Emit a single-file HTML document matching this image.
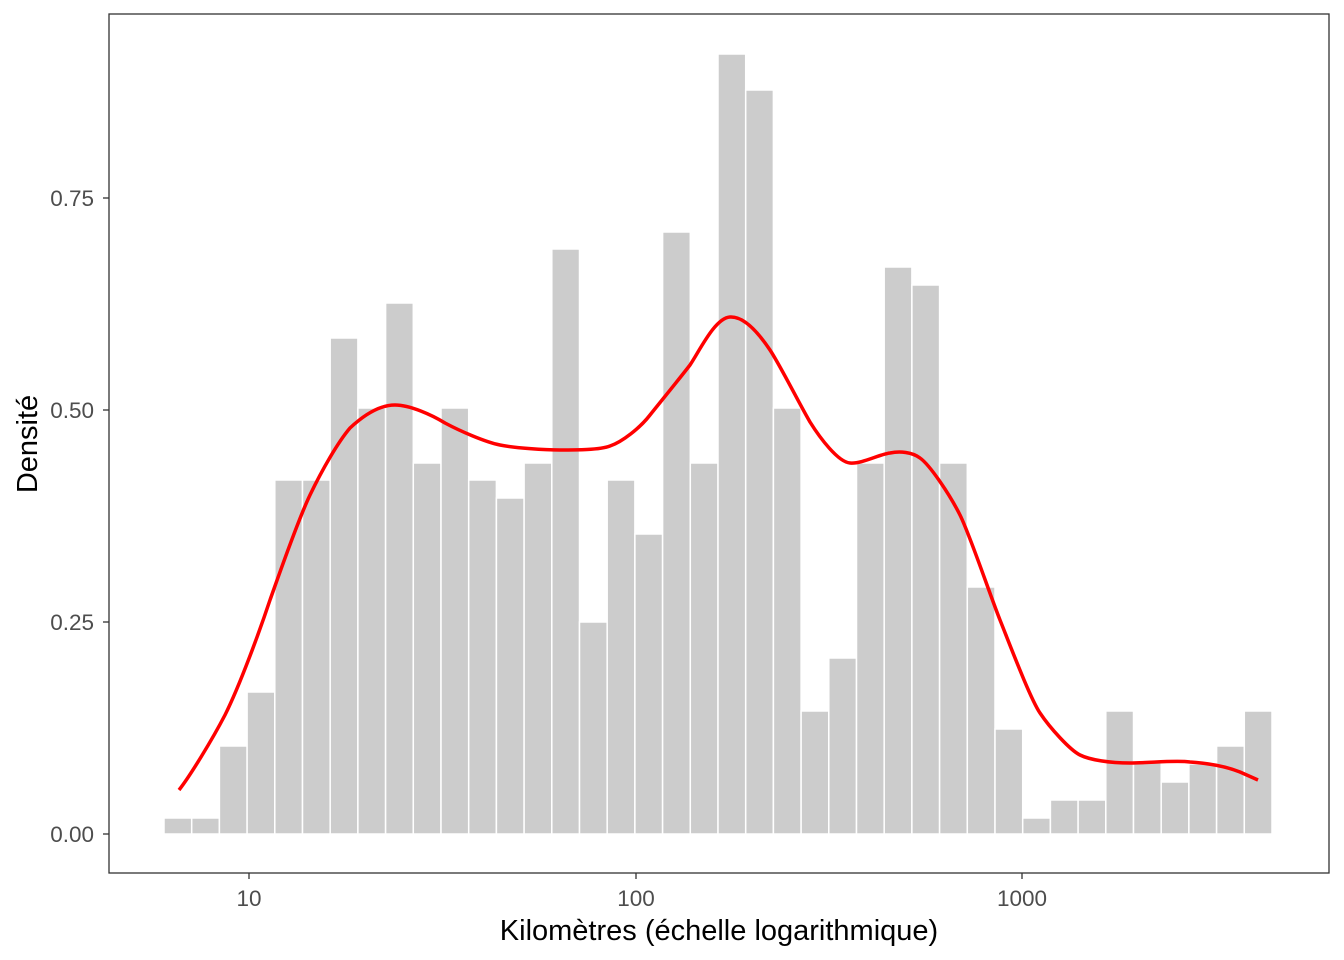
<!DOCTYPE html>
<html><head><meta charset="utf-8"><style>
html,body{margin:0;padding:0;background:#fff;}
svg{display:block;}
text{font-family:"Liberation Sans",Arial,sans-serif;}
</style></head><body>
<svg width="1344" height="960" viewBox="0 0 1344 960" xmlns="http://www.w3.org/2000/svg">
<rect width="1344" height="960" fill="#fff"/>
<g fill="#cccccc" stroke="#ffffff" stroke-width="1.5">
<rect x="164" y="818" width="27.7" height="16"/>
<rect x="191.7" y="818" width="27.7" height="16"/>
<rect x="219.4" y="746" width="27.7" height="88"/>
<rect x="247.1" y="692" width="27.7" height="142"/>
<rect x="274.8" y="480" width="27.7" height="354"/>
<rect x="302.5" y="480" width="27.7" height="354"/>
<rect x="330.2" y="338" width="27.7" height="496"/>
<rect x="357.9" y="408" width="27.7" height="426"/>
<rect x="385.6" y="303" width="27.7" height="531"/>
<rect x="413.3" y="463" width="27.7" height="371"/>
<rect x="441" y="408" width="27.7" height="426"/>
<rect x="468.7" y="480" width="27.7" height="354"/>
<rect x="496.4" y="498" width="27.7" height="336"/>
<rect x="524.1" y="463" width="27.7" height="371"/>
<rect x="551.8" y="249" width="27.7" height="585"/>
<rect x="579.5" y="622" width="27.7" height="212"/>
<rect x="607.2" y="480" width="27.7" height="354"/>
<rect x="634.9" y="534" width="27.7" height="300"/>
<rect x="662.6" y="232" width="27.7" height="602"/>
<rect x="690.3" y="463" width="27.7" height="371"/>
<rect x="718" y="54" width="27.7" height="780"/>
<rect x="745.7" y="90" width="27.7" height="744"/>
<rect x="773.4" y="408" width="27.7" height="426"/>
<rect x="801.1" y="711" width="27.7" height="123"/>
<rect x="828.8" y="658" width="27.7" height="176"/>
<rect x="856.5" y="463" width="27.7" height="371"/>
<rect x="884.2" y="267" width="27.7" height="567"/>
<rect x="911.9" y="285" width="27.7" height="549"/>
<rect x="939.6" y="463" width="27.7" height="371"/>
<rect x="967.3" y="587" width="27.7" height="247"/>
<rect x="995" y="729" width="27.7" height="105"/>
<rect x="1022.7" y="818" width="27.7" height="16"/>
<rect x="1050.4" y="800" width="27.7" height="34"/>
<rect x="1078.1" y="800" width="27.7" height="34"/>
<rect x="1105.8" y="711" width="27.7" height="123"/>
<rect x="1133.5" y="762" width="27.7" height="72"/>
<rect x="1161.2" y="782" width="27.7" height="52"/>
<rect x="1188.9" y="764" width="27.7" height="70"/>
<rect x="1216.6" y="746" width="27.7" height="88"/>
<rect x="1244.3" y="711" width="27.7" height="123"/>
</g>
<path d="M179,790 C190,776 212,740 225,715 C240,685 260,630 270,600 C280,572 298,520 310,495 C322,470 338,442 350,428 C365,414 380,405 395,405 C410,405 432,415 445,423 C460,431 485,442 500,445 C515,448 545,450 560,450 C575,450 600,450 610,446 C622,442 640,428 650,415 C662,400 680,378 690,365 C700,350 715,318 730,317 C745,316 760,335 770,350 C780,365 800,405 810,422 C820,438 838,462 850,463 C862,464 880,454 890,453 C900,451 912,452 920,458 C930,465 950,495 960,515 C970,535 990,595 1000,620 C1010,645 1030,698 1040,713 C1050,728 1070,750 1080,755 C1090,760 1110,763 1130,763 C1150,763 1175,760 1190,762 C1205,763 1225,766 1240,772 L1258,780" fill="none" stroke="#ff0000" stroke-width="3.5"/>
<rect x="109" y="14" width="1220" height="859" fill="none" stroke="#333" stroke-width="1.3"/>
<g stroke="#333" stroke-width="1.3">
<line x1="103" y1="834" x2="109" y2="834"/>
<line x1="103" y1="622" x2="109" y2="622"/>
<line x1="103" y1="410" x2="109" y2="410"/>
<line x1="103" y1="198" x2="109" y2="198"/>
<line x1="249" y1="873" x2="249" y2="879"/>
<line x1="636" y1="873" x2="636" y2="879"/>
<line x1="1022" y1="873" x2="1022" y2="879"/>
</g>
<g fill="#4d4d4d" font-size="22.5" text-anchor="end">
<text x="94" y="842">0.00</text>
<text x="94" y="630">0.25</text>
<text x="94" y="418">0.50</text>
<text x="94" y="206">0.75</text>
</g>
<g fill="#4d4d4d" font-size="22.5" text-anchor="middle">
<text x="249" y="906">10</text>
<text x="636" y="906">100</text>
<text x="1022" y="906">1000</text>
</g>
<text x="719" y="940" font-size="29" text-anchor="middle" fill="#000">Kilomètres (échelle logarithmique)</text>
<text transform="translate(37,444) rotate(-90)" font-size="29" text-anchor="middle" fill="#000">Densité</text>
</svg>
</body></html>
